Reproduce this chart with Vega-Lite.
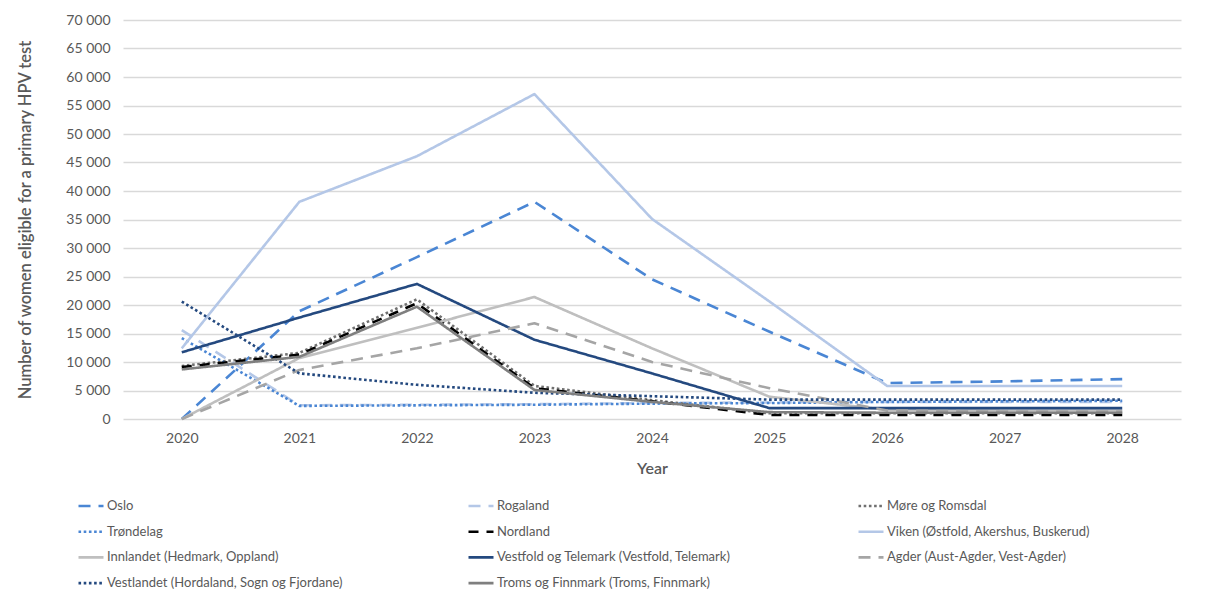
{
  "$schema": "https://vega.github.io/schema/vega-lite/v6.json",
  "width": 1058,
  "height": 399,
  "autosize": {"type": "none"},
  "padding": {"left": 123, "top": 20, "right": 29, "bottom": 185},
  "background": "#ffffff",
  "config": {
    "locale": {"number": {"decimal": ",", "thousands": " ", "grouping": [3], "currency": ["", " kr"]}},
    "font": "Lato",
    "view": {"stroke": null},
    "legend": {
      "title": null,
      "orient": "none",
      "legendX": -46,
      "legendY": 472,
      "columns": 3,
      "gridAlign": "all",
      "columnPadding": 120,
      "rowPadding": 4.7,
      "symbolType": "stroke",
      "symbolSize": 625,
      "symbolStrokeWidth": 2.6,
      "labelFontSize": 13,
      "labelColor": "#595959",
      "labelOffset": 2,
      "labelLimit": 500
    }
  },
  "data": {
    "values": [
      {"region": "Oslo", "year": "2020", "women": 0},
      {"region": "Oslo", "year": "2021", "women": 18900},
      {"region": "Oslo", "year": "2022", "women": 28400},
      {"region": "Oslo", "year": "2023", "women": 38100},
      {"region": "Oslo", "year": "2024", "women": 24500},
      {"region": "Oslo", "year": "2025", "women": 15300},
      {"region": "Oslo", "year": "2026", "women": 6300},
      {"region": "Oslo", "year": "2027", "women": 6600},
      {"region": "Oslo", "year": "2028", "women": 7000},

      {"region": "Rogaland", "year": "2020", "women": 15600},
      {"region": "Rogaland", "year": "2021", "women": 2400},
      {"region": "Rogaland", "year": "2022", "women": 2500},
      {"region": "Rogaland", "year": "2023", "women": 2600},
      {"region": "Rogaland", "year": "2024", "women": 2800},
      {"region": "Rogaland", "year": "2025", "women": 2900},
      {"region": "Rogaland", "year": "2026", "women": 3000},
      {"region": "Rogaland", "year": "2027", "women": 3000},
      {"region": "Rogaland", "year": "2028", "women": 3000},

      {"region": "Møre og Romsdal", "year": "2020", "women": 9300},
      {"region": "Møre og Romsdal", "year": "2021", "women": 11600},
      {"region": "Møre og Romsdal", "year": "2022", "women": 21000},
      {"region": "Møre og Romsdal", "year": "2023", "women": 5800},
      {"region": "Møre og Romsdal", "year": "2024", "women": 3300},
      {"region": "Møre og Romsdal", "year": "2025", "women": 1000},
      {"region": "Møre og Romsdal", "year": "2026", "women": 1000},
      {"region": "Møre og Romsdal", "year": "2027", "women": 1000},
      {"region": "Møre og Romsdal", "year": "2028", "women": 1000},

      {"region": "Trøndelag", "year": "2020", "women": 14200},
      {"region": "Trøndelag", "year": "2021", "women": 2300},
      {"region": "Trøndelag", "year": "2022", "women": 2400},
      {"region": "Trøndelag", "year": "2023", "women": 2500},
      {"region": "Trøndelag", "year": "2024", "women": 2700},
      {"region": "Trøndelag", "year": "2025", "women": 2800},
      {"region": "Trøndelag", "year": "2026", "women": 3000},
      {"region": "Trøndelag", "year": "2027", "women": 3100},
      {"region": "Trøndelag", "year": "2028", "women": 3200},

      {"region": "Nordland", "year": "2020", "women": 9100},
      {"region": "Nordland", "year": "2021", "women": 11300},
      {"region": "Nordland", "year": "2022", "women": 20300},
      {"region": "Nordland", "year": "2023", "women": 5400},
      {"region": "Nordland", "year": "2024", "women": 3100},
      {"region": "Nordland", "year": "2025", "women": 700},
      {"region": "Nordland", "year": "2026", "women": 700},
      {"region": "Nordland", "year": "2027", "women": 700},
      {"region": "Nordland", "year": "2028", "women": 700},

      {"region": "Viken (Østfold, Akershus, Buskerud)", "year": "2020", "women": 12400},
      {"region": "Viken (Østfold, Akershus, Buskerud)", "year": "2021", "women": 38100},
      {"region": "Viken (Østfold, Akershus, Buskerud)", "year": "2022", "women": 46100},
      {"region": "Viken (Østfold, Akershus, Buskerud)", "year": "2023", "women": 57000},
      {"region": "Viken (Østfold, Akershus, Buskerud)", "year": "2024", "women": 35100},
      {"region": "Viken (Østfold, Akershus, Buskerud)", "year": "2025", "women": 20600},
      {"region": "Viken (Østfold, Akershus, Buskerud)", "year": "2026", "women": 5800},
      {"region": "Viken (Østfold, Akershus, Buskerud)", "year": "2027", "women": 5800},
      {"region": "Viken (Østfold, Akershus, Buskerud)", "year": "2028", "women": 5800},

      {"region": "Innlandet (Hedmark, Oppland)", "year": "2020", "women": 0},
      {"region": "Innlandet (Hedmark, Oppland)", "year": "2021", "women": 10700},
      {"region": "Innlandet (Hedmark, Oppland)", "year": "2022", "women": 16000},
      {"region": "Innlandet (Hedmark, Oppland)", "year": "2023", "women": 21400},
      {"region": "Innlandet (Hedmark, Oppland)", "year": "2024", "women": 12400},
      {"region": "Innlandet (Hedmark, Oppland)", "year": "2025", "women": 3900},
      {"region": "Innlandet (Hedmark, Oppland)", "year": "2026", "women": 1600},
      {"region": "Innlandet (Hedmark, Oppland)", "year": "2027", "women": 1500},
      {"region": "Innlandet (Hedmark, Oppland)", "year": "2028", "women": 1500},

      {"region": "Vestfold og Telemark (Vestfold, Telemark)", "year": "2020", "women": 11700},
      {"region": "Vestfold og Telemark (Vestfold, Telemark)", "year": "2021", "women": 17800},
      {"region": "Vestfold og Telemark (Vestfold, Telemark)", "year": "2022", "women": 23700},
      {"region": "Vestfold og Telemark (Vestfold, Telemark)", "year": "2023", "women": 13900},
      {"region": "Vestfold og Telemark (Vestfold, Telemark)", "year": "2024", "women": 8000},
      {"region": "Vestfold og Telemark (Vestfold, Telemark)", "year": "2025", "women": 1900},
      {"region": "Vestfold og Telemark (Vestfold, Telemark)", "year": "2026", "women": 1900},
      {"region": "Vestfold og Telemark (Vestfold, Telemark)", "year": "2027", "women": 1900},
      {"region": "Vestfold og Telemark (Vestfold, Telemark)", "year": "2028", "women": 1900},

      {"region": "Agder (Aust-Agder, Vest-Agder)", "year": "2020", "women": 0},
      {"region": "Agder (Aust-Agder, Vest-Agder)", "year": "2021", "women": 8600},
      {"region": "Agder (Aust-Agder, Vest-Agder)", "year": "2022", "women": 12400},
      {"region": "Agder (Aust-Agder, Vest-Agder)", "year": "2023", "women": 16800},
      {"region": "Agder (Aust-Agder, Vest-Agder)", "year": "2024", "women": 10000},
      {"region": "Agder (Aust-Agder, Vest-Agder)", "year": "2025", "women": 5400},
      {"region": "Agder (Aust-Agder, Vest-Agder)", "year": "2026", "women": 1500},
      {"region": "Agder (Aust-Agder, Vest-Agder)", "year": "2027", "women": 1300},
      {"region": "Agder (Aust-Agder, Vest-Agder)", "year": "2028", "women": 1300},

      {"region": "Vestlandet (Hordaland, Sogn og Fjordane)", "year": "2020", "women": 20600},
      {"region": "Vestlandet (Hordaland, Sogn og Fjordane)", "year": "2021", "women": 8000},
      {"region": "Vestlandet (Hordaland, Sogn og Fjordane)", "year": "2022", "women": 6000},
      {"region": "Vestlandet (Hordaland, Sogn og Fjordane)", "year": "2023", "women": 4600},
      {"region": "Vestlandet (Hordaland, Sogn og Fjordane)", "year": "2024", "women": 4000},
      {"region": "Vestlandet (Hordaland, Sogn og Fjordane)", "year": "2025", "women": 3400},
      {"region": "Vestlandet (Hordaland, Sogn og Fjordane)", "year": "2026", "women": 3400},
      {"region": "Vestlandet (Hordaland, Sogn og Fjordane)", "year": "2027", "women": 3400},
      {"region": "Vestlandet (Hordaland, Sogn og Fjordane)", "year": "2028", "women": 3400},

      {"region": "Troms og Finnmark (Troms, Finnmark)", "year": "2020", "women": 8700},
      {"region": "Troms og Finnmark (Troms, Finnmark)", "year": "2021", "women": 10900},
      {"region": "Troms og Finnmark (Troms, Finnmark)", "year": "2022", "women": 19700},
      {"region": "Troms og Finnmark (Troms, Finnmark)", "year": "2023", "women": 5100},
      {"region": "Troms og Finnmark (Troms, Finnmark)", "year": "2024", "women": 3000},
      {"region": "Troms og Finnmark (Troms, Finnmark)", "year": "2025", "women": 1200},
      {"region": "Troms og Finnmark (Troms, Finnmark)", "year": "2026", "women": 1100},
      {"region": "Troms og Finnmark (Troms, Finnmark)", "year": "2027", "women": 1100},
      {"region": "Troms og Finnmark (Troms, Finnmark)", "year": "2028", "women": 1100}
    ]
  },
  "mark": {"type": "line", "strokeWidth": 2.6, "strokeCap": "butt", "strokeJoin": "round"},
  "encoding": {
    "x": {
      "field": "year",
      "type": "ordinal",
      "scale": {"type": "point", "padding": 0.5},
      "axis": {
        "title": "Year",
        "labelAngle": 0,
        "labelFontSize": 14,
        "labelColor": "#595959",
        "labelPadding": 12,
        "titleFontSize": 16,
        "titleFontWeight": 600,
        "titleColor": "#595959",
        "titlePadding": 15,
        "domain": false,
        "ticks": false,
        "grid": false
      }
    },
    "y": {
      "field": "women",
      "type": "quantitative",
      "scale": {"domain": [0, 70000], "nice": false},
      "axis": {
        "title": "Number of women eligible for a primary HPV test",
        "values": [0, 5000, 10000, 15000, 20000, 25000, 30000, 35000, 40000, 45000, 50000, 55000, 60000, 65000, 70000],
        "format": ",d",
        "labelFontSize": 14,
        "labelColor": "#595959",
        "labelPadding": 13,
        "titleFontSize": 16.5,
        "titleFontWeight": 600,
        "titleColor": "#595959",
        "titlePadding": 32,
        "domain": false,
        "ticks": false,
        "gridColor": "#d9d9d9",
        "gridWidth": 1.3
      }
    },
    "color": {
      "field": "region",
      "type": "nominal",
      "sort": null,
      "scale": {
        "domain": ["Oslo", "Trøndelag", "Innlandet (Hedmark, Oppland)", "Vestlandet (Hordaland, Sogn og Fjordane)", "Rogaland", "Nordland", "Vestfold og Telemark (Vestfold, Telemark)", "Troms og Finnmark (Troms, Finnmark)", "Møre og Romsdal", "Viken (Østfold, Akershus, Buskerud)", "Agder (Aust-Agder, Vest-Agder)"],
        "range": ["#4a86d4", "#4a86d4", "#bfbfbf", "#24497f", "#b4c7e7", "#000000", "#24497f", "#7f7f7f", "#707070", "#b4c7e7", "#a5a5a5"]
      }
    },
    "strokeDash": {
      "field": "region",
      "type": "nominal",
      "sort": null,
      "scale": {
        "domain": ["Oslo", "Trøndelag", "Innlandet (Hedmark, Oppland)", "Vestlandet (Hordaland, Sogn og Fjordane)", "Rogaland", "Nordland", "Vestfold og Telemark (Vestfold, Telemark)", "Troms og Finnmark (Troms, Finnmark)", "Møre og Romsdal", "Viken (Østfold, Akershus, Buskerud)", "Agder (Aust-Agder, Vest-Agder)"],
        "range": [[12, 8], [2.6, 2.6], [1, 0], [2.6, 2.6], [12, 8], [10, 8], [1, 0], [1, 0], [2.6, 2.6], [1, 0], [12, 8]]
      }
    }
  }
}
